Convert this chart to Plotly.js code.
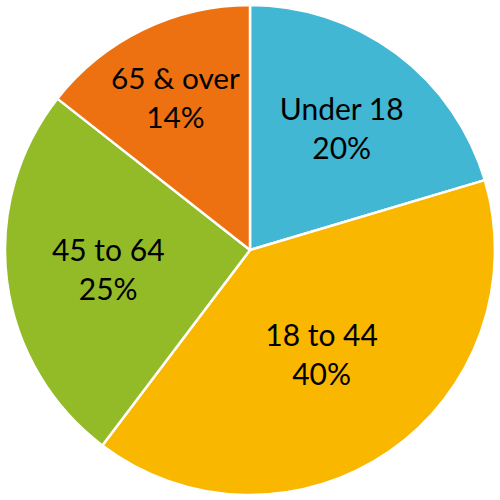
<!DOCTYPE html>
<html>
<head>
<meta charset="utf-8">
<script src="https://cdn.plot.ly/plotly-3.0.1.min.js"></script>
<style>
  html, body { margin: 0; padding: 0; background: #fff; }
  #chart { width: 500px; height: 500px; }
</style>
</head>
<body>
<div id="chart"></div>
<script>
// Age groups, clockwise from 12 o'clock
const labels = ['Under 18', '18 to 44', '45 to 64', '65 & over'];
const shares = [20.4, 39.9, 25.3, 14.4];
const colors = ['#41B7D4', '#F9B700', '#92BB27', '#ED7110'];

const trace = {
    type: 'pie',
    labels: labels,
    values: shares,
    sort: false,
    direction: 'clockwise',
    rotation: 0,
    marker: { colors: colors, line: { color: '#ffffff', width: 2.5 } },
    texttemplate: '%{label}<br>%{percent:.0%}',
    textposition: 'inside',
    insidetextorientation: 'horizontal',
    textfont: { family: 'Lato, "Open Sans", sans-serif', size: 30, color: '#000000' },
    hoverinfo: 'label+percent'
};

const layout = {
    width: 500,
    height: 500,
    margin: { l: 5, r: 5, t: 5, b: 5 },
    paper_bgcolor: '#ffffff',
    showlegend: false
};

Plotly.newPlot('chart', [trace], layout, { displayModeBar: false, staticPlot: true });
</script>
</body>
</html>
